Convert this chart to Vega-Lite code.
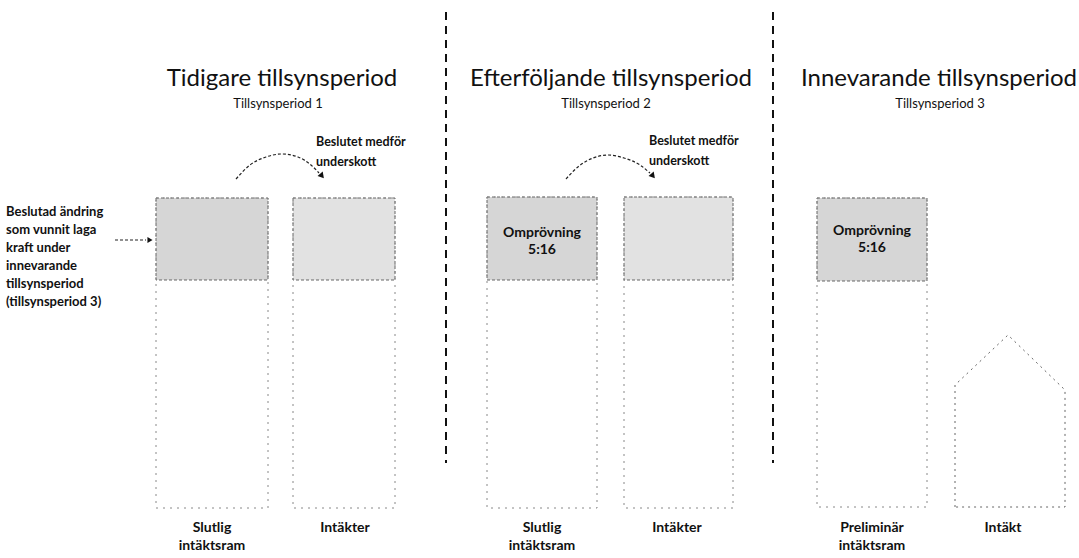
{
  "$schema": "https://vega.github.io/schema/vega-lite/v6.json",
  "width": 1079,
  "height": 558,
  "autosize": {"type": "fit", "contains": "padding"},
  "padding": 0,
  "background": "white",
  "config": {"view": {"stroke": null}, "font": "Lato", "text": {"color": "#111"}},
  "datasets": {
    "boxes": [
      {"col": "Slutlig intäktsram 1", "kind": "ram", "x": 156, "x2": 268, "y": 198, "ymid": 280, "ybot": 508},
      {"col": "Intäkter 1", "kind": "intakt", "x": 293, "x2": 395, "y": 198, "ymid": 280, "ybot": 508},
      {"col": "Slutlig intäktsram 2", "kind": "ram", "x": 487, "x2": 597, "y": 197, "ymid": 280, "ybot": 508},
      {"col": "Intäkter 2", "kind": "intakt", "x": 624, "x2": 733, "y": 197, "ymid": 280, "ybot": 508},
      {"col": "Preliminär intäktsram 3", "kind": "ram", "x": 817, "x2": 927, "y": 198, "ymid": 281, "ybot": 507}
    ],
    "separators": [
      {"x": 446, "y": 12, "y2": 463},
      {"x": 773, "y": 12, "y2": 463}
    ],
    "arcs": [
      {"g": 1, "i": 0, "x": 236, "y": 179},
      {"g": 1, "i": 1, "x": 250, "y": 165},
      {"g": 1, "i": 2, "x": 266, "y": 157},
      {"g": 1, "i": 3, "x": 282, "y": 154},
      {"g": 1, "i": 4, "x": 298, "y": 157},
      {"g": 1, "i": 5, "x": 311, "y": 165},
      {"g": 1, "i": 6, "x": 319, "y": 173},
      {"g": 2, "i": 0, "x": 566, "y": 179},
      {"g": 2, "i": 1, "x": 579, "y": 166},
      {"g": 2, "i": 2, "x": 593, "y": 158},
      {"g": 2, "i": 3, "x": 608, "y": 155},
      {"g": 2, "i": 4, "x": 624, "y": 158},
      {"g": 2, "i": 5, "x": 640, "y": 165},
      {"g": 2, "i": 6, "x": 650, "y": 173},
      {"g": 3, "i": 0, "x": 115, "y": 240},
      {"g": 3, "i": 1, "x": 146, "y": 240}
    ],
    "heads": [
      {"x": 322, "y": 176},
      {"x": 653, "y": 176}
    ],
    "sideheads": [
      {"x": 150, "y": 240}
    ],
    "house": [
      {"i": 0, "x": 955, "y": 507},
      {"i": 1, "x": 955, "y": 385},
      {"i": 2, "x": 1008, "y": 335},
      {"i": 3, "x": 1065, "y": 390},
      {"i": 4, "x": 1065, "y": 507},
      {"i": 5, "x": 955, "y": 507}
    ],
    "titles": [
      {"x": 282, "y": 79, "text": "Tidigare tillsynsperiod"},
      {"x": 611, "y": 79, "text": "Efterföljande tillsynsperiod"},
      {"x": 939, "y": 79, "text": "Innevarande tillsynsperiod"}
    ],
    "subtitles": [
      {"x": 278, "y": 104, "text": "Tillsynsperiod 1"},
      {"x": 606, "y": 104, "text": "Tillsynsperiod 2"},
      {"x": 940, "y": 104, "text": "Tillsynsperiod 3"}
    ],
    "inbox": [
      {"x": 542, "y": 233, "text": ["Omprövning", "5:16"]},
      {"x": 872, "y": 231, "text": ["Omprövning", "5:16"]}
    ],
    "labels": [
      {"x": 212, "y": 528, "text": ["Slutlig", "intäktsram"]},
      {"x": 345, "y": 528, "text": ["Intäkter"]},
      {"x": 542, "y": 528, "text": ["Slutlig", "intäktsram"]},
      {"x": 677, "y": 528, "text": ["Intäkter"]},
      {"x": 872, "y": 528, "text": ["Preliminär", "intäktsram"]},
      {"x": 1003, "y": 528, "text": ["Intäkt"]}
    ],
    "notes": [
      {"x": 316, "y": 142, "text": ["Beslutet medför", "underskott"]},
      {"x": 649, "y": 141, "text": ["Beslutet medför", "underskott"]}
    ],
    "leftnote": [
      {"x": 6, "y": 212, "text": ["Beslutad ändring", "som vunnit laga", "kraft under", "innevarande", "tillsynsperiod", "(tillsynsperiod 3)"]}
    ]
  },
  "encoding": {
    "x": {"field": "x", "type": "quantitative", "scale": {"domain": [0, 1079], "nice": false, "zero": false}, "axis": null},
    "y": {"field": "y", "type": "quantitative", "scale": {"domain": [0, 558], "nice": false, "zero": false, "reverse": true}, "axis": null}
  },
  "layer": [
    {
      "data": {"name": "boxes"},
      "mark": {"type": "rect", "stroke": "#666", "strokeWidth": 1, "strokeDash": [3, 2]},
      "encoding": {
        "x2": {"field": "x2"},
        "y2": {"field": "ymid"},
        "fill": {"field": "kind", "type": "nominal", "scale": {"domain": ["ram", "intakt"], "range": ["#d6d6d6", "#e2e2e2"]}, "legend": null}
      }
    },
    {
      "data": {"name": "boxes"},
      "mark": {"type": "rect", "fill": null, "stroke": "#888", "strokeWidth": 1, "strokeDash": [2, 5]},
      "encoding": {
        "x2": {"field": "x2"},
        "y2": {"field": "ybot"}
      }
    },
    {
      "data": {"name": "house"},
      "mark": {"type": "line", "color": "#666", "strokeWidth": 1, "strokeDash": [2, 4]},
      "encoding": {"order": {"field": "i", "type": "quantitative"}}
    },
    {
      "data": {"name": "separators"},
      "mark": {"type": "rule", "color": "#111", "strokeWidth": 2, "strokeDash": [8, 6]},
      "encoding": {"y2": {"field": "y2"}}
    },
    {
      "data": {"name": "arcs"},
      "mark": {"type": "line", "color": "#222", "strokeWidth": 1.2, "strokeDash": [3, 2], "interpolate": "monotone"},
      "encoding": {
        "detail": {"field": "g", "type": "nominal"},
        "order": {"field": "i", "type": "quantitative"}
      }
    },
    {
      "data": {"name": "heads"},
      "mark": {"type": "point", "shape": "triangle-down", "filled": true, "color": "#111", "size": 45, "angle": 320, "opacity": 1}
    },
    {
      "data": {"name": "sideheads"},
      "mark": {"type": "point", "shape": "triangle-right", "filled": true, "color": "#111", "size": 35, "opacity": 1}
    },
    {
      "data": {"name": "titles"},
      "mark": {"type": "text", "fontSize": 24, "align": "center", "baseline": "middle"},
      "encoding": {"text": {"field": "text"}}
    },
    {
      "data": {"name": "subtitles"},
      "mark": {"type": "text", "fontSize": 13, "align": "center", "baseline": "middle"},
      "encoding": {"text": {"field": "text"}}
    },
    {
      "data": {"name": "inbox"},
      "mark": {"type": "text", "fontSize": 14, "fontWeight": "bold", "align": "center", "baseline": "middle", "lineHeight": 17},
      "encoding": {"text": {"field": "text"}}
    },
    {
      "data": {"name": "labels"},
      "mark": {"type": "text", "fontSize": 14, "fontWeight": "bold", "align": "center", "baseline": "middle", "lineHeight": 18},
      "encoding": {"text": {"field": "text"}}
    },
    {
      "data": {"name": "notes"},
      "mark": {"type": "text", "fontSize": 12.5, "fontWeight": "bold", "align": "left", "baseline": "middle", "lineHeight": 20},
      "encoding": {"text": {"field": "text"}}
    },
    {
      "data": {"name": "leftnote"},
      "mark": {"type": "text", "fontSize": 13, "fontWeight": "bold", "align": "left", "baseline": "middle", "lineHeight": 18},
      "encoding": {"text": {"field": "text"}}
    }
  ]
}
